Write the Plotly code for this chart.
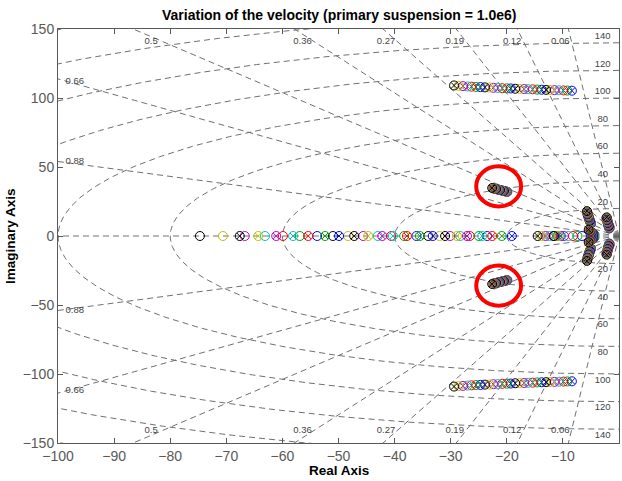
import numpy as np
import plotly.graph_objects as go

# ---------------- data ----------------
series_colors = ["#0000ff", "#00a000", "#ff0000", "#00bfbf", "#bf00bf", "#bfbf00", "#000000"]
n_series = 28

# upper/lower complex branch (pole+zero pairs), +/- imag
upper_re = [-8.4, -9.2, -9.9, -10.7, -11.5, -12.3, -13.0, -13.8, -14.6, -15.4, -16.2, -16.9, -17.7, -18.5,
            -19.3, -20.0, -20.8, -21.6, -22.4, -23.1, -23.9, -24.7, -25.5, -26.3, -27.0, -27.8, -28.6, -29.4]
upper_im = [105.3, 105.4, 105.5, 105.6, 105.7, 105.8, 105.9, 106.0, 106.1, 106.3, 106.4, 106.5, 106.6, 106.7,
            106.9, 107.0, 107.1, 107.3, 107.4, 107.6, 107.7, 107.9, 108.0, 108.2, 108.4, 108.6, 108.8, 109.1]
# circled cluster
mid_re = [-19.9, -20.0, -20.1, -20.2, -20.3, -20.4, -20.5, -20.6, -20.7, -20.8, -20.9, -21.0, -21.1, -21.2,
          -21.3, -21.4, -21.5, -21.6, -21.7, -21.8, -21.9, -22.0, -22.1, -22.2, -22.3, -22.4, -22.5, -22.6]
mid_im = [32.0, 32.1, 32.2, 32.3, 32.4, 32.5, 32.6, 32.7, 32.8, 32.9, 33.0, 33.1, 33.2, 33.3,
          33.4, 33.5, 33.6, 33.7, 33.8, 33.9, 34.0, 34.1, 34.2, 34.3, 34.4, 34.5, 34.6, 34.8]
# clusters near the origin
a_re = [-5.0, -5.0, -5.1, -5.1, -5.1, -5.2, -5.2, -5.2, -5.3, -5.3, -5.3, -5.3, -5.4, -5.4,
        -5.4, -5.4, -5.5, -5.5, -5.5, -5.5, -5.6, -5.6, -5.6, -5.6, -5.7, -5.7, -5.7, -5.7]
a_im = [9.0, 9.3, 9.7, 10.0, 10.3, 10.7, 11.0, 11.3, 11.7, 12.0, 12.3, 12.7, 13.0, 13.3,
        13.7, 14.0, 14.3, 14.7, 15.0, 15.3, 15.7, 16.0, 16.3, 16.7, 17.0, 17.3, 17.7, 18.0]
b_re = [-1.7, -1.7, -1.7, -1.8, -1.8, -1.8, -1.8, -1.9, -1.9, -1.9, -1.9, -1.9, -2.0, -2.0,
        -2.0, -2.0, -2.0, -2.1, -2.1, -2.1, -2.1, -2.1, -2.2, -2.2, -2.2, -2.2, -2.2, -2.2]
b_im = [5.5, 5.8, 6.1, 6.4, 6.7, 7.0, 7.3, 7.6, 7.9, 8.2, 8.5, 8.8, 9.1, 9.4,
        9.7, 10.0, 10.3, 10.6, 10.9, 11.2, 11.5, 11.8, 12.1, 12.4, 12.7, 13.0, 13.2, 13.5]
c_re = [-4.4, -4.4, -4.5, -4.5, -4.6, -4.6, -4.6, -4.7, -4.7, -4.8, -4.8, -4.8, -4.9, -4.9,
        -4.9, -5.0, -5.0, -5.0, -5.1, -5.1, -5.1, -5.2, -5.2, -5.2, -5.3, -5.3, -5.3, -5.4]
c_im = [0.8, 0.9, 1.1, 1.2, 1.4, 1.5, 1.6, 1.8, 1.9, 2.1, 2.2, 2.3, 2.5, 2.6,
        2.8, 2.9, 3.0, 3.2, 3.3, 3.5, 3.6, 3.7, 3.9, 4.0, 4.2, 4.3, 4.4, 4.5]
# real axis: pole+zero pairs and plain zeros
real_pz = [-10.4, -11.0, -11.7, -12.4, -13.1, -13.8, -14.5, -19.1, -20.9, -22.6, -24.4, -27.1, -28.9, -31.0,
           -33.2, -35.5, -37.8, -40.3, -42.2, -44.7, -47.2, -49.9, -52.4, -55.4, -58.1, -61.1, -64.3, -67.6]
real_z = [-6.6, -7.4, -8.2, -9.0, -9.8, -10.7, -11.6, -23.5, -25.0, -26.6, -28.3, -30.1, -32.0, -34.0,
          -36.1, -38.3, -40.6, -43.0, -45.6, -48.3, -51.0, -53.8, -56.9, -59.9, -63.1, -66.7, -70.6, -74.7]

# s-plane grid
zeta_values = [0.06, 0.12, 0.19, 0.27, 0.36, 0.5, 0.66, 0.88]
wn_values = [20, 40, 60, 80, 100, 120, 140, 160, 180]
wn_labels = [20, 40, 60, 80, 100, 120, 140]

x_range = [-100, 0]
y_range = [-150, 150]

# ---------------- figure ----------------
fig = go.Figure()
grid_color = "#707070"
grid_dash = "6px,4px"

# damping rays (including zeta = 1 on the real axis)
rx, ry = [], []
R = 260.0
for z in zeta_values:
    th = np.arccos(z)
    for sgn in (1, -1):
        rx += [0.0, -R * np.cos(th), None]
        ry += [0.0, sgn * R * np.sin(th), None]
rx += [0.0, -R, None]
ry += [0.0, 0.0, None]
fig.add_trace(go.Scatter(x=rx, y=ry, mode="lines", line=dict(color=grid_color, width=1, dash=grid_dash),
                         hoverinfo="skip", showlegend=False))

# natural frequency semicircles
cx, cy = [], []
phi = np.linspace(np.pi / 2, 3 * np.pi / 2, 361)
for w in wn_values:
    cx += list(w * np.cos(phi)) + [None]
    cy += list(w * np.sin(phi)) + [None]
fig.add_trace(go.Scatter(x=cx, y=cy, mode="lines", line=dict(color=grid_color, width=1, dash=grid_dash),
                         hoverinfo="skip", showlegend=False))

# grid labels
lx, ly, lt = [], [], []
for z in zeta_values:
    s = np.tan(np.arccos(z))
    if 97 * s < 141:
        px, py = -97.0, 97 * s + 1.5
    else:
        px, py = -141.0 / s - 2.0, 141.0
    for sgn in (1, -1):
        lx.append(px)
        ly.append(sgn * py)
        lt.append(f"{z:g}")
for w in wn_labels:
    for sgn in (1, -1):
        lx.append(-2.9)
        ly.append(sgn * (w + 4.5))
        lt.append(str(w))
fig.add_trace(go.Scatter(x=lx, y=ly, text=lt, mode="text",
                         textfont=dict(family="Arial, Liberation Sans", size=9.5, color="#444444"),
                         hoverinfo="skip", showlegend=False, cliponaxis=False))

# pole / zero markers per series
for i in range(n_series):
    col = series_colors[i % len(series_colors)]
    pz_x = [upper_re[i], upper_re[i], mid_re[i], mid_re[i], a_re[i], a_re[i], b_re[i], b_re[i],
            c_re[i], c_re[i], real_pz[i]]
    pz_y = [upper_im[i], -upper_im[i], mid_im[i], -mid_im[i], a_im[i], -a_im[i], b_im[i], -b_im[i],
            c_im[i], -c_im[i], 0.0]
    zx = pz_x + [real_z[i]]
    zy = pz_y + [0.0]
    fig.add_trace(go.Scatter(x=zx, y=zy, mode="markers",
                             marker=dict(symbol="circle-open", size=9, color=col, line=dict(width=1, color=col)),
                             showlegend=False))
    fig.add_trace(go.Scatter(x=pz_x, y=pz_y, mode="markers",
                             marker=dict(symbol="x-thin-open", size=6, color=col, line=dict(width=1, color=col)),
                             showlegend=False))

# red highlight circles around the circled cluster
mcx = float(np.mean(mid_re)) - 0.2
mcy = float(np.mean(mid_im)) + 2.6
for sgn in (1, -1):
    fig.add_shape(type="circle", xref="x", yref="y",
                  x0=mcx - 4.0, x1=mcx + 4.0, y0=sgn * mcy - 14.5, y1=sgn * mcy + 14.5,
                  line=dict(color="#ff0000", width=4))

axis_common = dict(showgrid=False, zeroline=False, showline=True, linecolor="#595959", linewidth=1,
                   mirror="ticks", ticks="inside", ticklen=5, tickcolor="#595959",
                   tickfont=dict(family="Arial, Liberation Sans", size=14, color="#595959"))
fig.update_xaxes(range=x_range, dtick=10, tick0=0, **axis_common)
fig.update_yaxes(range=y_range, dtick=50, tick0=0, **axis_common)

fig.update_layout(
    width=622, height=481,
    margin=dict(l=58, r=3, t=29, b=38),
    paper_bgcolor="white", plot_bgcolor="white",
    showlegend=False,
    annotations=[
        dict(text="<b>Variation of the velocity (primary suspension = 1.0e6)</b>", xref="paper", yref="paper",
             x=0.5, y=1, yshift=14, xanchor="center", yanchor="middle", showarrow=False,
             font=dict(family="Arial, Liberation Sans", size=14, color="black")),
        dict(text="<b>Real Axis</b>", xref="paper", yref="paper", x=0.5, y=0, yshift=-27,
             xanchor="center", yanchor="middle", showarrow=False,
             font=dict(family="Arial, Liberation Sans", size=13.5, color="black")),
        dict(text="<b>Imaginary Axis</b>", xref="paper", yref="paper", x=0, y=0.5, xshift=-48,
             xanchor="center", yanchor="middle", textangle=-90, showarrow=False,
             font=dict(family="Arial, Liberation Sans", size=13.5, color="black")),
    ],
)

fig.write_html("out.html")
